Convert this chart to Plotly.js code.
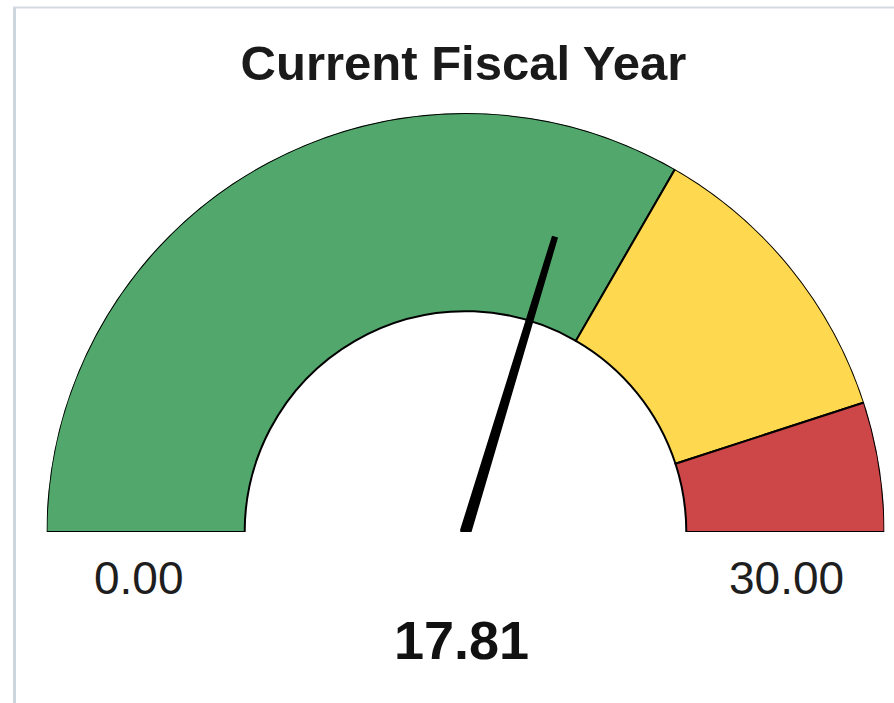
<!DOCTYPE html>
<html>
<head>
<meta charset="utf-8">
<script src="https://cdn.plot.ly/plotly-3.0.1.min.js"></script>
<style>
  html, body { margin: 0; padding: 0; background: #ffffff; }
  #chart { width: 894px; height: 703px; }
</style>
</head>
<body>
<div id="chart"></div>
<script>
// ---- data ----
const chartTitle = 'Current Fiscal Year';
const gaugeMin = 0;
const gaugeMax = 30;
const bandNames = ['Good', 'Warning', 'Critical'];
const bandFrom = [0, 20, 27];
const bandTo = [20, 27, 30];
const currentValue = 17.81;
const tickLabels = ['0.00', '30.00'];

// ---- styles ----
const bandColors = ['#52a86c', '#fed94f', '#cd4648'];
const W = 894, H = 703;
const HOLE = 0.527;          // inner radius as a fraction of the outer radius
const NEEDLE_LEN = 0.735;    // needle length as a fraction of the outer radius

const toDeg = v => (v - gaugeMin) / (gaugeMax - gaugeMin) * 180;

// gauge bands
const bands = {
  type: 'barpolar',
  theta: bandFrom.map((a, i) => toDeg((a + bandTo[i]) / 2)),
  width: bandFrom.map((a, i) => toDeg(bandTo[i]) - toDeg(a)),
  r: bandFrom.map(() => 1 - HOLE),
  base: bandFrom.map(() => HOLE),
  text: bandNames,
  marker: { color: bandColors, line: { color: '#000000', width: 2 } },
  hoverinfo: 'text',
  showlegend: false
};

// needle (tapered polygon driven by the value)
const nd = toDeg(currentValue);
const needle = {
  type: 'scatterpolar',
  mode: 'lines',
  r: [0.012, NEEDLE_LEN, NEEDLE_LEN, 0.012, 0.012, 0.012],
  theta: [nd - 90, nd - 0.45, nd + 0.45, nd + 90, nd + 180, nd - 90],
  fill: 'toself',
  fillcolor: '#000000',
  line: { color: '#000000', width: 1.5 },
  hoverinfo: 'skip',
  showlegend: false
};

const R = 419, CX = 465.5, CY = 532;
const layout = {
  width: W, height: H,
  margin: { l: 0, r: 0, t: 0, b: 0 },
  paper_bgcolor: '#ffffff',
  font: { family: 'Liberation Sans, Arial, sans-serif', color: '#000000' },
  title: {
    text: chartTitle,
    font: { size: 49, weight: 'bold', color: '#1a1a1a' },
    xref: 'paper', yref: 'paper',
    x: 463.5 / W, y: 1 - 63 / H,
    xanchor: 'center', yanchor: 'middle'
  },
  polar: {
    domain: { x: [(CX - R) / W, (CX + R) / W], y: [(H - CY) / H, (H - CY + R) / H] },
    sector: [0, 180],
    hole: 0,
    bgcolor: 'rgba(0,0,0,0)',
    angularaxis: {
      thetaunit: 'degrees', rotation: 180, direction: 'clockwise',
      showline: false, showgrid: false, showticklabels: false, ticks: ''
    },
    radialaxis: { range: [0, 1], visible: false, showgrid: false, showline: false, showticklabels: false, ticks: '' }
  },
  annotations: [
    { text: tickLabels[0], xref: 'paper', yref: 'paper', x: 138.5 / W, y: 1 - 577.5 / H,
      xanchor: 'center', yanchor: 'middle', showarrow: false, font: { size: 46, color: '#1e1e1e' } },
    { text: tickLabels[1], xref: 'paper', yref: 'paper', x: 786.5 / W, y: 1 - 577.5 / H,
      xanchor: 'center', yanchor: 'middle', showarrow: false, font: { size: 46, color: '#1e1e1e' } },
    { text: currentValue.toFixed(2), xref: 'paper', yref: 'paper', x: 461.5 / W, y: 1 - 640 / H,
      xanchor: 'center', yanchor: 'middle', showarrow: false, font: { size: 54, weight: 'bold', color: '#111111' } }
  ],
  shapes: [
    { type: 'line', xref: 'paper', yref: 'paper', x0: 14.5 / W, x1: 14.5 / W, y0: 0, y1: 1 - 7 / H,
      line: { color: '#cdd5de', width: 3 } },
    { type: 'line', xref: 'paper', yref: 'paper', x0: 13 / W, x1: 1, y0: 1 - 7.5 / H, y1: 1 - 7.5 / H,
      line: { color: '#d3d9e1', width: 2 } }
  ]
};

Plotly.newPlot('chart', [bands, needle], layout, { displayModeBar: false, staticPlot: true });
</script>
</body>
</html>
